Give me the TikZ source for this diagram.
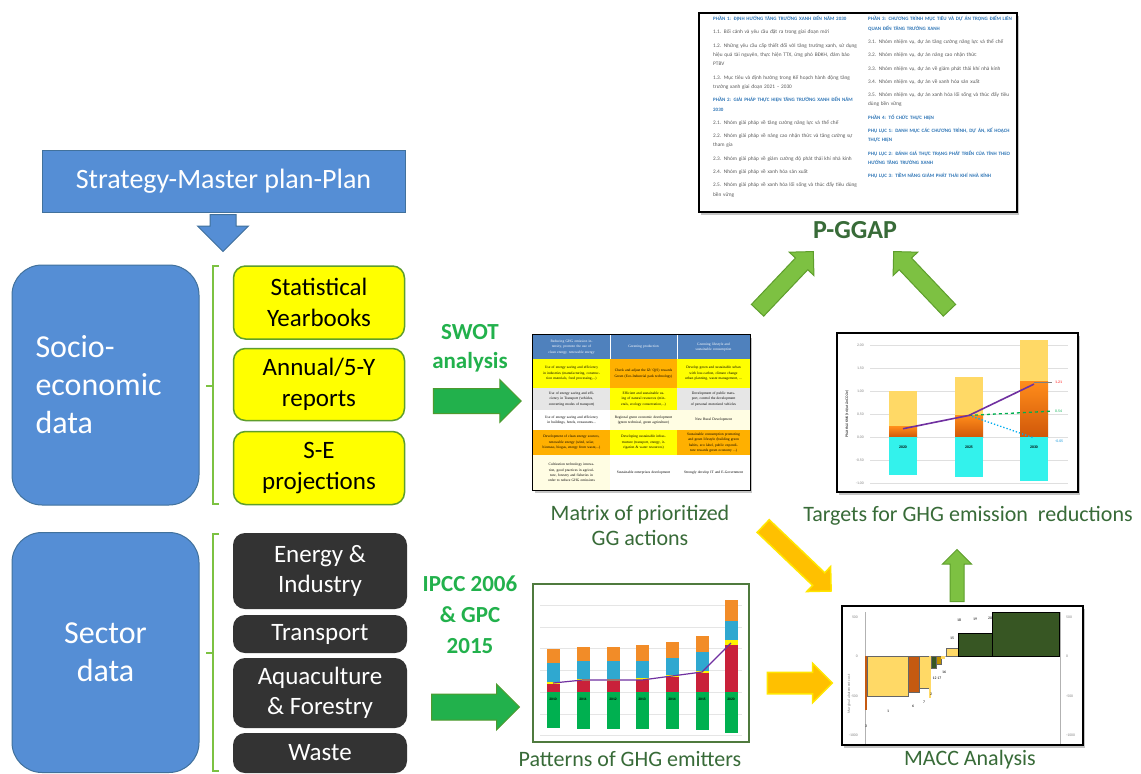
\documentclass[tikz,border=0pt]{standalone}
\usepackage{fontspec}
\setmainfont{Carlito}
\newfontfamily\cellfont{Liberation Serif}
\usetikzlibrary{shapes.arrows,shadows,positioning}

\definecolor{bluefill}{HTML}{558ED5}
\definecolor{blueline}{HTML}{41719C}
\definecolor{boxgreen}{HTML}{5E9E2C}
\definecolor{darkbox}{HTML}{333333}
\definecolor{bracegreen}{HTML}{7CC242}
\definecolor{arrowgreen}{HTML}{22B14C}
\definecolor{arrowline}{HTML}{4E9A2E}
\definecolor{lightgreen}{HTML}{7DC142}
\definecolor{lightline}{HTML}{5E9E2C}
\definecolor{arrowyellow}{HTML}{FFC000}
\definecolor{yellowline}{HTML}{FFE600}
\definecolor{capgreen}{HTML}{386B38}
\definecolor{labelgreen}{HTML}{22B14C}
\definecolor{docblue}{HTML}{2E75B6}
\definecolor{docgrey}{HTML}{595959}
\definecolor{hdrblue}{HTML}{4F81BD}
\definecolor{celly}{HTML}{FFFF00}
\definecolor{cello}{HTML}{FFB000}
\definecolor{cellg}{HTML}{E6E6E6}
\definecolor{cellc}{HTML}{FFFDE3}
\definecolor{ltorange}{HTML}{FFD966}
\definecolor{orangeA}{HTML}{FF8C1A}
\definecolor{orangeB}{HTML}{D0580A}
\definecolor{cyanbar}{HTML}{33F2EC}
\definecolor{purpleline}{HTML}{7030A0}
\definecolor{pgreen}{HTML}{00B050}
\definecolor{pred}{HTML}{C9213A}
\definecolor{pblue}{HTML}{2FA8D0}
\definecolor{porange}{HTML}{F28C28}
\definecolor{patframe}{HTML}{4F7A3E}
\definecolor{maccbrown}{HTML}{C55A11}
\definecolor{maccgreen}{HTML}{375623}
\definecolor{maccdark}{HTML}{BF9000}

\begin{document}
\begin{tikzpicture}[x=1pt, y=-1pt,
    bigbox/.style   = {draw=blueline, line width=1pt, fill=bluefill,
                       rounded corners=30pt, minimum width=187pt,
                       minimum height=240pt, text=white,
                       font=\fontsize{32}{38}\selectfont},
    ybox/.style     = {draw=boxgreen, line width=1.5pt, fill=celly,
                       rounded corners=12pt, minimum width=171pt,
                       align=center, inner sep=1pt,
                       font=\fontsize{25}{31}\selectfont},
    dbox/.style     = {fill=darkbox, rounded corners=12pt,
                       minimum width=174pt, text=white, align=center,
                       inner sep=1pt, font=\fontsize{25}{30}\selectfont},
    brace/.style    = {draw=bracegreen, line width=2pt},
    blockarrow/.style = {single arrow, inner xsep=0pt, line width=1pt,
                       single arrow tip angle=90},
    greenarrow/.style = {blockarrow, fill=arrowgreen, draw=arrowline},
    lightarrow/.style = {blockarrow, fill=lightgreen, draw=lightline},
    yellowarrow/.style= {blockarrow, fill=arrowyellow, draw=yellowline,
                       line width=1.5pt},
    method/.style   = {text=labelgreen, align=center,
                       font=\bfseries\fontsize{23}{29}\selectfont},
    caption/.style  = {text=capgreen, align=center,
                       font=\fontsize{22}{25}\selectfont},
    thumb/.style    = {draw=black, line width=1.2pt, fill=white,
                       drop shadow={shadow xshift=2pt, shadow yshift=-2.5pt,
                       opacity=0.45}},
    doccol/.style   = {anchor=north west, text width=146pt, align=left,
                       inner sep=0pt, text=docgrey,
                       font=\fontsize{5.3}{9.3}\selectfont},
    celltext/.style = {text width=60pt, align=center, inner sep=0pt,
                       font=\cellfont\fontsize{3.6}{5.4}\selectfont},
    tick/.style     = {inner sep=0pt, text=gray,
                       font=\fontsize{3.8}{4}\selectfont},
  ]
  \useasboundingbox[fill=white] (0,0) rectangle (1141,774);

  % banner and its arrow
  \node[single arrow, fill=bluefill, draw=blueline, line width=1pt,
        inner xsep=0pt, inner ysep=12.5pt, rotate=-90, minimum height=37pt,
        single arrow head extend=12.5pt, single arrow tip angle=90]
        (down) at (223,226.5) {};
  \node[draw=blueline, line width=1pt, fill=bluefill, minimum width=363pt,
        minimum height=62pt, text=white, font=\fontsize{28}{32}\selectfont]
        (banner) at (223.5,181) {Strategy-Master plan-Plan};

  % socio-economic data
  \node[bigbox, text width=140pt, align=left] (socio) at (105.5,385)
    {Socio-\\economic\\data};
  \draw[brace] (219,266) -- (213,266) -- (213,504) -- (219,504);
  \draw[brace] (213,386) -- (206,386);
  \node[ybox, minimum height=73pt] (stat) at (319,302.5) {Statistical\\Yearbooks};
  \node[ybox, minimum height=72pt] (annual) at (319,384.5) {Annual/5-Y\\reports};
  \node[ybox, minimum height=73pt] (proj) at (319,468) {S-E\\projections};

  % sector data
  \node[bigbox, align=center] (sector) at (105.5,652.5) {Sector\\data};
  \draw[brace] (219,534) -- (213,534) -- (213,771) -- (219,771);
  \draw[brace] (213,653) -- (206,653);
  \node[dbox, minimum height=76pt] (energy) at (320,571) {Energy \&\\Industry};
  \node[dbox, minimum height=38pt] (transport) at (320,634) {Transport};
  \node[dbox, minimum height=70pt] (aqua) at (320,693) {Aquaculture\\\& Forestry};
  \node[dbox, minimum height=40pt] (waste) at (320,753) {Waste};

  % methods
  \node[method] (swot) at (470,348) {SWOT\\analysis};
  \node[greenarrow, minimum height=88pt, inner ysep=12pt,
        single arrow head extend=9pt] (swotarrow) at (471,401) {};
  \node[method, font=\bfseries\fontsize{23}{31}\selectfont] (ipcc) at (470,615)
    {IPCC 2006\\\& GPC\\2015};
  \node[greenarrow, minimum height=88pt, inner ysep=12.5pt,
        single arrow head extend=10pt] (ipccarrow) at (469,707) {};

  % P-GGAP document
  \node[thumb, minimum width=318pt, minimum height=199pt] (doc) at (858,112.5) {};
  \node[doccol] (docleft) at (713,16) {%
    \textcolor{docblue}{\bfseries\fontsize{5}{9.3}\selectfont PHẦN 1: ĐỊNH HƯỚNG TĂNG TRƯỞNG XANH ĐẾN NĂM 2030}\\[4pt]
    1.1. Bối cảnh và yêu cầu đặt ra trong giai đoạn mới\\[4pt]
    1.2. Những yêu cầu cấp thiết đối với tăng trưởng xanh, sử dụng hiệu quả tài nguyên, thực hiện TTX, ứng phó BĐKH, đảm bảo PTBV\\[4pt]
    1.3. Mục tiêu và định hướng trong Kế hoạch hành động tăng trưởng xanh giai đoạn 2021 -- 2030\\[4pt]
    \textcolor{docblue}{\bfseries\fontsize{5}{9.3}\selectfont PHẦN 2: GIẢI PHÁP THỰC HIỆN TĂNG TRƯỞNG XANH ĐẾN NĂM 2030}\\[4pt]
    2.1. Nhóm giải pháp về tăng cường năng lực và thể chế\\[4pt]
    2.2. Nhóm giải pháp về nâng cao nhận thức và tăng cường sự tham gia\\[4pt]
    2.3. Nhóm giải pháp về giảm cường độ phát thải khí nhà kính\\[4pt]
    2.4. Nhóm giải pháp về xanh hóa sản xuất\\[4pt]
    2.5. Nhóm giải pháp về xanh hóa lối sống và thúc đẩy tiêu dùng bền vững};
  \node[doccol] (docright) at (868,16) {%
    \textcolor{docblue}{\bfseries\fontsize{5}{9.3}\selectfont PHẦN 3: CHƯƠNG TRÌNH MỤC TIÊU VÀ DỰ ÁN TRỌNG ĐIỂM LIÊN QUAN ĐẾN TĂNG TRƯỞNG XANH}\\[4pt]
    3.1. Nhóm nhiệm vụ, dự án tăng cường năng lực và thể chế\\[4pt]
    3.2. Nhóm nhiệm vụ, dự án nâng cao nhận thức\\[4pt]
    3.3. Nhóm nhiệm vụ, dự án về giảm phát thải khí nhà kính\\[4pt]
    3.4. Nhóm nhiệm vụ, dự án về xanh hóa sản xuất\\[4pt]
    3.5. Nhóm nhiệm vụ, dự án xanh hóa lối sống và thúc đẩy tiêu dùng bền vững\\[4pt]
    \textcolor{docblue}{\bfseries\fontsize{5}{9.3}\selectfont PHẦN 4: TỔ CHỨC THỰC HIỆN}\\[4pt]
    \textcolor{docblue}{\bfseries\fontsize{5}{9.3}\selectfont PHỤ LỤC 1: DANH MỤC CÁC CHƯƠNG TRÌNH, DỰ ÁN, KẾ HOẠCH THỰC HIỆN}\\[4pt]
    \textcolor{docblue}{\bfseries\fontsize{5}{9.3}\selectfont PHỤ LỤC 2: ĐÁNH GIÁ THỰC TRẠNG PHÁT TRIỂN CỦA TỈNH THEO HƯỚNG TĂNG TRƯỞNG XANH}\\[4pt]
    \textcolor{docblue}{\bfseries\fontsize{5}{9.3}\selectfont PHỤ LỤC 3: TIỀM NĂNG GIẢM PHÁT THẢI KHÍ NHÀ KÍNH}};
  \node[text=capgreen, font=\bfseries\fontsize{26}{28}\selectfont]
    (pggap) at (855,230) {P-GGAP};
  \node[lightarrow, rotate=46.5, minimum height=81pt, inner ysep=8pt,
        single arrow head extend=8.5pt] (upleft) at (782.5,284) {};
  \node[lightarrow, rotate=133.5, minimum height=81pt, inner ysep=8pt,
        single arrow head extend=8.5pt] (upright) at (924.5,284) {};

  % matrix of prioritized GG actions
  \node[thumb, minimum width=217pt, minimum height=155pt] (matrix) at (641.5,412.5) {};
  \foreach \xa/\xb/\ya/\yb/\col/\txt [count=\k] in {
      533/610/335/359/hdrblue/{Reducing GHG emission intensity, promote the use of clean energy, renewable energy},
      610/677/335/359/hdrblue/{Greening production},
      677/750/335/359/hdrblue/{Greening lifestyle and sustainable consumption},
      533/610/359/388/celly/{Use of energy saving and efficiency in industries (manufacturing, construction materials, food processing,...)},
      610/677/359/388/cello/{Check and adjust the IZ/ Q(S) towards Green (Eco-Industrial park technology)},
      677/750/359/388/celly/{Develop green and sustainable urban with low-carbon, climate change urban planning, waste management, ...},
      533/610/388/410/cellg/{Use of energy saving and efficiency in Transport (vehicles, converting modes of transport)},
      610/677/388/410/celly/{Efficient and sustainable using of natural resources (minerals, ecology conservation,...)},
      677/750/388/410/cellg/{Development of public transport, control the development of personal motorized vehicles},
      533/610/410/430/white/{Use of energy saving and efficiency in buildings, hotels, restaurants...},
      610/677/410/430/cellc/{Regional green economic development (green technical, green agriculture)},
      677/750/410/430/cellc/{New Rural Development},
      533/610/430/455/cello/{Development of clean energy sources, renewable energy (wind, solar, biomass, biogas, energy from waste,...)},
      610/677/430/455/celly/{Developing sustainable infrastructure (transport, energy, irrigation \& water resources)},
      677/750/430/455/cello/{Sustainable consumption promoting and green lifestyle (building green habits, eco label, public expenditure towards green economy ...)},
      533/610/455/490/cellc/{Cultivation technology innovation, good practices in agriculture, forestry and fisheries in order to reduce GHG emissions},
      610/677/455/490/white/{Sustainable enterprises development},
      677/750/455/490/white/{Strongly develop IT and E-Government}} {
    \fill[\col] (\xa,\ya) rectangle (\xb,\yb);
    \ifnum\k<4
      \node[celltext, text=white] (cell\k) at ({(\xa+\xb)/2},{(\ya+\yb)/2}) {\txt};
    \else
      \node[celltext] (cell\k) at ({(\xa+\xb)/2},{(\ya+\yb)/2}) {\txt};
    \fi
  }
  \draw[white, line width=0.4pt] (610,335) -- (610,359) (677,335) -- (677,359);
  \draw[line width=1.2pt] (matrix.north west) rectangle (matrix.south east);
  \node[caption] (matrixcap) at (640,525) {Matrix of prioritized\\GG actions};

  % targets for GHG emission reductions
  \node[thumb, minimum width=241pt, minimum height=159pt] (targets) at (957.5,412.5) {};
  \begin{scope}[shift={(0,437)}, y=46pt]
    \foreach \v/\lab in {2/2.00, 1.5/1.50, 1/1.00, 0.5/0.50, 0/0.00, -0.5/-0.50, -1/-1.00} {
      \draw[gray!25, line width=0.5pt] (870,\v) -- (1068,\v);
      \node[tick, anchor=east] at (864,\v) {\lab};
    }
    \node[tick, text=black, rotate=90] (ytitle) at (847,0.5) {Phát thải KNK (triệu tấn CO2e)};
    \foreach \xa/\o/\t/\c/\yr in {889/0.22/1.0/0.83/2020, 955/0.47/1.3/0.87/2025,
                                  1020/1.2/2.1/0.95/2030} {
      \fill[ltorange] (\xa,\o) rectangle ({\xa+28},\t);
      \fill[top color=orangeA, bottom color=orangeB] (\xa,0) rectangle ({\xa+28},\o);
      \fill[cyanbar] (\xa,0) rectangle ({\xa+28},-\c);
      \node[tick, text=black, font=\bfseries\fontsize{3.8}{4}\selectfont]
        at ({\xa+14},-0.22) {\yr};
    }
    \draw[gray, line width=0.4pt] (1034,1.2) -- (1052,1.2);
    \draw[pgreen, dashed, line width=1.3pt] (969,0.47) -- (1050,0.56);
    \draw[cyan, dotted, line width=1.3pt] (969,0.47) -- (1034,-0.02);
    \draw[purpleline, line width=1.6pt] (903,0.18) -- (969,0.47) -- (1034,1.15);
    \node[tick, text=red, anchor=west] (lab121) at (1055,1.19) {1.21};
    \node[tick, text=pgreen, anchor=west] (lab054) at (1055,0.56) {0.54};
    \node[tick, text=cyan!80!blue, anchor=west] (lab005) at (1055,-0.1) {-0.05};
  \end{scope}
  \node[caption] (targetscap) at (968,516) {Targets for GHG emission\ \ reductions};

  \node[yellowarrow, rotate=-43.7, minimum height=94pt, inner ysep=8pt,
        single arrow head extend=8.5pt] (diagdown) at (794,555.5) {};

  % patterns of GHG emitters
  \node[draw=patframe, line width=1.2pt, fill=white, minimum width=216pt,
        minimum height=158pt] (patterns) at (641,663) {};
  \begin{scope}[shift={(0,692)}, y=1pt]
    \foreach \v in {87,65,44,22,0,-22,-43}
      \draw[gray!20, line width=0.5pt] (540,\v) -- (742,\v);
    \foreach \xc/\r/\yl/\b/\o/\g/\yr in {553/8/10/29/43/36/2010, 583/11/13/31/45/37/2011,
        613/11/13/31/45/37/2012, 642/12/14/31/47/37/2013, 672/15/17/34/50/37/2014,
        702/19/21/40/56/38/2015, 731/47/52/71/92/41/2020} {
      \fill[pgreen] ({\xc-6.5},0) rectangle ({\xc+6.5},-\g);
      \fill[pred] ({\xc-6.5},0) rectangle ({\xc+6.5},\r);
      \fill[yellow] ({\xc-6.5},\r) rectangle ({\xc+6.5},\yl);
      \fill[pblue] ({\xc-6.5},\yl) rectangle ({\xc+6.5},\b);
      \fill[porange] ({\xc-6.5},\b) rectangle ({\xc+6.5},\o);
      \node[tick, text=black, font=\bfseries\fontsize{3.6}{4}\selectfont]
        at (\xc,-7) {\yr};
    }
    \draw[purpleline, line width=1.2pt] (553,9) -- (583,12) -- (613,12) -- (642,12)
      -- (672,16) -- (702,20) -- (731,49);
  \end{scope}
  \node[caption] (patternscap) at (630,759) {Patterns of GHG emitters};

  \node[yellowarrow, minimum height=65pt, inner ysep=10pt,
        single arrow head extend=9pt] (rightarrow) at (794.5,683) {};

  % MACC analysis
  \node[thumb, minimum width=241pt, minimum height=139pt] (macc) at (962.5,675.5) {};
  \begin{scope}[shift={(0,656)}, y=1pt]
    \draw[gray!60, line width=0.5pt] (865,44) -- (865,-88) (1060,44) -- (1060,-88);
    \draw[gray!60, line width=0.5pt] (865,0) -- (1060,0);
    \foreach \v/\lab in {39/500, 0/0, -40/-500, -79/-1000} {
      \node[tick, anchor=east] at (858,\v) {\lab};
      \node[tick, anchor=west] at (1066,\v) {\lab};
    }
    \node[tick, rotate=90] (maccy) at (849,-38) {Marginal abatement cost};
    \fill[maccbrown] (865,0) rectangle (867,-54);
    \filldraw[fill=ltorange, draw=black!60, line width=0.4pt] (867,0) rectangle (908,-40);
    \filldraw[fill=maccbrown, draw=black!60, line width=0.4pt] (908,0) rectangle (919,-36);
    \filldraw[fill=ltorange, draw=black!60, line width=0.4pt] (919,0) rectangle (929,-32);
    \fill[ltorange] (929,0) rectangle (931,-42);
    \filldraw[fill=maccgreen, draw=black!60, line width=0.4pt] (931,0) rectangle (936,-12);
    \filldraw[fill=maccdark, draw=black!60, line width=0.4pt] (936,0) rectangle (941,-8);
    \fill[ltorange] (941,0) rectangle (945,-3);
    \filldraw[fill=ltorange, draw=black!60, line width=0.4pt] (946,0) rectangle (958,8);
    \filldraw[fill=maccgreen, draw=black, line width=0.5pt] (958,0) rectangle (992,23);
    \filldraw[fill=maccgreen, draw=black, line width=0.5pt] (992,0) rectangle (1059,44);
    \foreach \px/\py/\num in {888/-55/1, 866/-70/3, 913/-50/6, 924/-46/7, 931/-38/2,
        937/-22/12 17, 944/-16/16, 952/18/15, 959/36/18, 975/37/19, 990/38/20}
      \node[tick, text=black] at (\px,\py) {\num};
  \end{scope}
  \node[caption] (macccap) at (970,760) {MACC Analysis};

  \node[lightarrow, rotate=90, minimum height=52pt, inner ysep=6.5pt,
        single arrow head extend=7.5pt] (upmacc) at (957,579) {};
\end{tikzpicture}
\end{document}
